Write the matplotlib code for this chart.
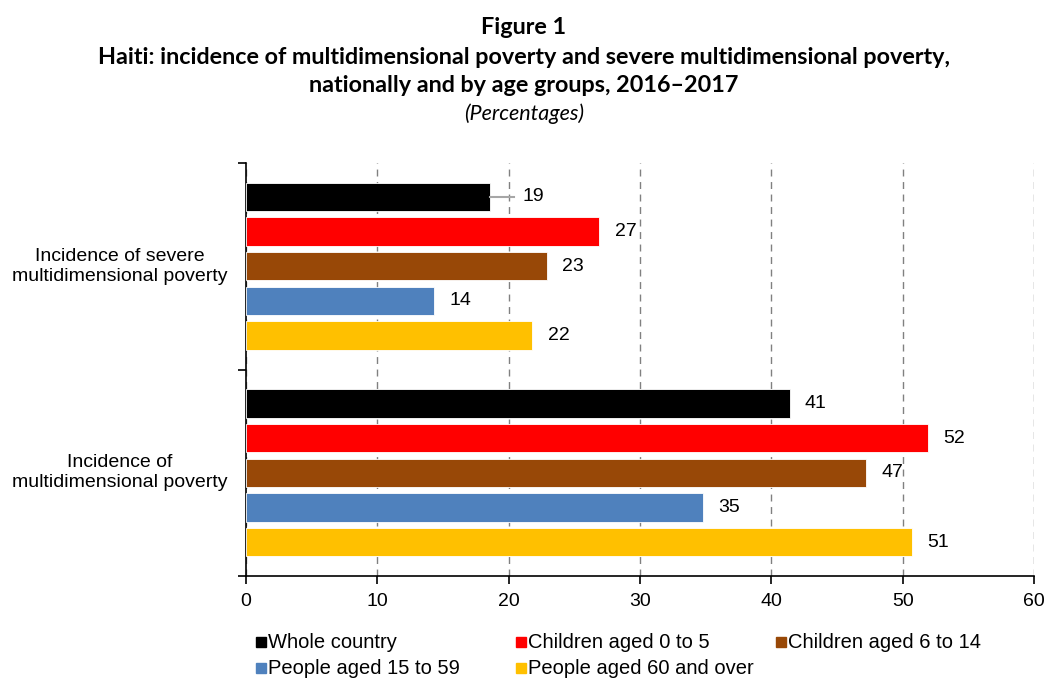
import matplotlib
matplotlib.use("Agg")
import matplotlib.pyplot as plt
from matplotlib.lines import Line2D
import numpy as np

plt.rcParams['font.family'] = ['Liberation Sans', 'DejaVu Sans']

# --- data ---
indicadores = ["Incidence of\nmultidimensional poverty",
               "Incidence of severe\nmultidimensional poverty"]
grupos = ["Whole country", "Children aged 0 to 5", "Children aged 6 to 14",
          "People aged 15 to 59", "People aged 60 and over"]
cores = ["#000000", "#FF0000", "#984807", "#4F81BD", "#FFC000"]

# one list per group: [multidimensional, severe]
whole_country = [41.4, 18.6]
criancas_0_5 = [51.9, 26.9]
criancas_6_14 = [47.2, 22.9]
pessoas_15_59 = [34.8, 14.3]
pessoas_60 = [50.7, 21.8]
series = [whole_country, criancas_0_5, criancas_6_14, pessoas_15_59, pessoas_60]

# --- figure ---
W, H = 1048, 680
fig = plt.figure(figsize=(W / 100, H / 100), dpi=100)
ax = fig.add_axes([246 / W, 1 - 576 / H, 788 / W, 413 / H])

passo = 0.168
altura = 0.138
y_base = np.arange(len(indicadores))

for i, (vals, cor) in enumerate(zip(series, cores)):
    y = y_base + (2 - i) * passo
    ax.barh(y, vals, height=altura, color=cor, edgecolor='white', linewidth=0.6,
            label=grupos[i], zorder=3)
    for yy, v in zip(y, vals):
        if i == 0 and v < 20:
            # short grey leader line next to the smallest black bar
            ax.plot([v, v + 1.8], [yy, yy], color='#A6A6A6', lw=1.5, zorder=3)
            ax.annotate(f"{v:.0f}", (v + 1.8, yy), xytext=(6, 0),
                        textcoords='offset points', va='center', ha='left',
                        fontsize=14)
        else:
            ax.annotate(f"{v:.0f}", (v, yy), xytext=(11, 0),
                        textcoords='offset points', va='center', ha='left',
                        fontsize=14)

ax.set_xlim(0, 60)
ax.set_ylim(-0.5, 1.5)
ax.set_xticks(np.arange(0, 61, 10))
ax.tick_params(axis='x', labelsize=14, length=6, width=1.2, direction='out', pad=6)

ax.set_yticks([-0.5, 0.5, 1.5])
ax.set_yticklabels([])
ax.tick_params(axis='y', length=6, width=1.2, direction='out')

for yy, txt in zip(y_base, indicadores):
    ax.text(-0.16, yy, txt, transform=ax.get_yaxis_transform(),
            ha='center', va='center', fontsize=14, linespacing=1.2)

ax.grid(axis='x', linestyle=(0, (5, 4)), color='#808080', lw=1, zorder=0)
ax.spines['top'].set_visible(False)
ax.spines['right'].set_visible(False)
ax.spines['left'].set_linewidth(1.2)
ax.spines['bottom'].set_linewidth(1.2)

# --- titles ---
tit = dict(family=['Lato', 'DejaVu Sans'], weight='bold', fontsize=16.8, ha='center')
fig.text(0.5, 1 - 28 / H, "Figure 1", va='center', **tit)
fig.text(0.5, 1 - 57 / H,
         "Haiti: incidence of multidimensional poverty and severe multidimensional poverty,",
         va='center', **tit)
fig.text(0.5, 1 - 86 / H, "nationally and by age groups, 2016\u20132017", va='center', **tit)
fig.text(0.5, 1 - 114 / H, "(Percentages)", va='center', ha='center',
         family=['Lato', 'DejaVu Sans'], style='italic', fontsize=15.5)

# --- legend: 3 equal-width columns, filled row by row ---
x0, y0, dx, dy = 261, 642, 260, 26
for k, (nome, cor) in enumerate(zip(grupos, cores)):
    lin, col = divmod(k, 3)
    xm = (x0 + col * dx) / W
    ym = 1 - (y0 + lin * dy) / H
    fig.add_artist(Line2D([xm], [ym], marker='s', markersize=6.5, ls='none',
                          color=cor, transform=fig.transFigure))
    fig.text(xm + 7 / W, ym, nome, va='center', ha='left', fontsize=14.5)

fig.savefig("out.png", dpi=100)
